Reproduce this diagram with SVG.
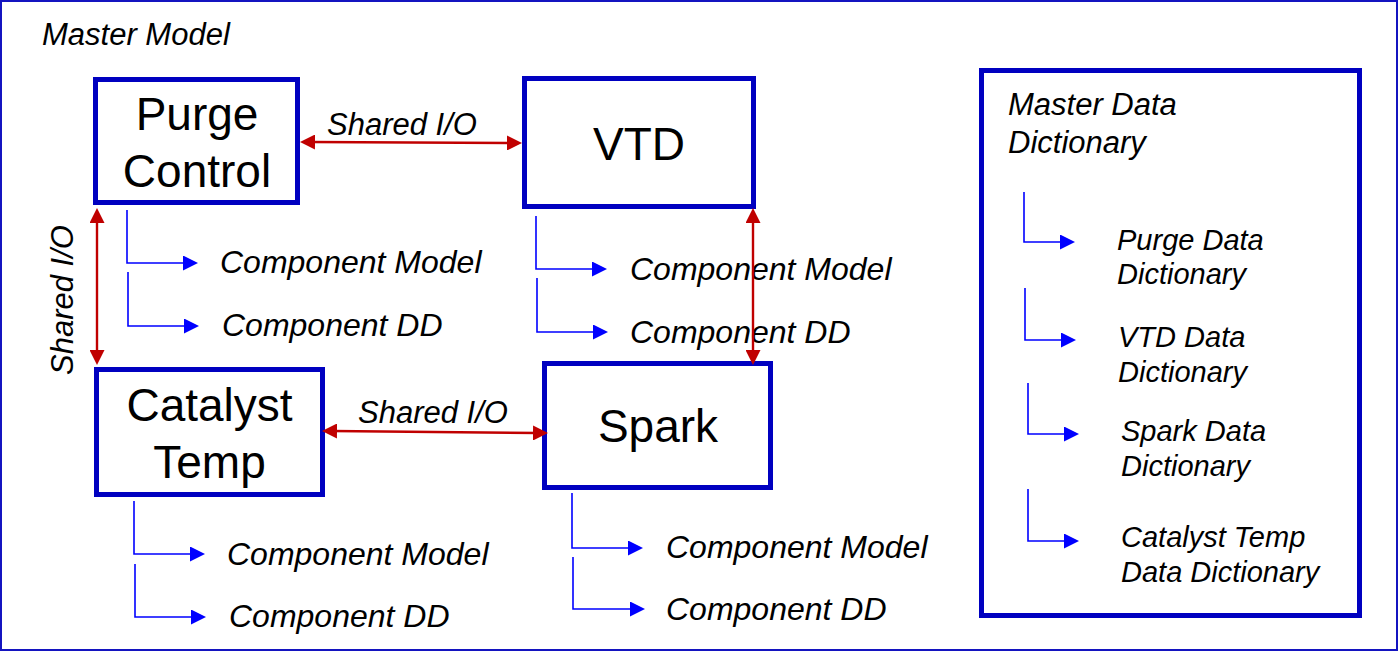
<svg xmlns="http://www.w3.org/2000/svg" width="1399" height="652" viewBox="0 0 1399 652">
<style>
.box{fill:#fff;stroke:#0000c0;stroke-width:5}
.big{font-family:"Liberation Sans",Arial,sans-serif;font-size:46px;fill:#000;text-anchor:middle}
.lbl{font-family:"Liberation Sans",Arial,sans-serif;font-style:italic;fill:#000}
.io{font-size:31px}
.cm{font-size:32px}
.dd{font-size:29px}
.red{fill:none;stroke:#c00000;stroke-width:2.4;marker-start:url(#ra);marker-end:url(#ra)}
.blu{fill:none;stroke:#0000ff;stroke-width:1.6;marker-end:url(#ba)}
</style>
<defs>
<marker id="ra" markerUnits="userSpaceOnUse" viewBox="0 0 15 15" refX="5" refY="7.5" markerWidth="15" markerHeight="15" orient="auto-start-reverse"><path d="M0,0 L15,7.5 L0,15 z" fill="#c00000"/></marker>
<marker id="ba" markerUnits="userSpaceOnUse" viewBox="0 0 15 15" refX="5" refY="7.5" markerWidth="15" markerHeight="15" orient="auto"><path d="M0,0 L15,7.5 L0,15 z" fill="#0000ff"/></marker>
</defs>
<rect x="0" y="0" width="1399" height="652" fill="#fff"/>
<rect id="frame" x="1" y="1" width="1396" height="649" fill="none" stroke="#1414c0" stroke-width="2"/>
<text class="lbl io" x="42" y="45">Master Model</text>

<g id="purge">
<rect class="box" x="95.5" y="79.5" width="202" height="123"/>
<text class="big" x="197" y="130">Purge</text>
<text class="big" x="197" y="187">Control</text>
<text class="lbl cm" x="220" y="273">Component Model</text>
<text class="lbl cm" x="222" y="336">Component DD</text>
</g>

<g id="vtd">
<rect class="box" x="524.5" y="78.5" width="229" height="128"/>
<text class="big" x="639" y="160">VTD</text>
<text class="lbl cm" x="630" y="280">Component Model</text>
<text class="lbl cm" x="630" y="343">Component DD</text>
</g>

<g id="catalyst">
<rect class="box" x="96.5" y="369.5" width="226" height="125"/>
<text class="big" x="209.5" y="421">Catalyst</text>
<text class="big" x="209.5" y="478">Temp</text>
<text class="lbl cm" x="227" y="565">Component Model</text>
<text class="lbl cm" x="229" y="627">Component DD</text>
</g>

<g id="spark">
<rect class="box" x="544.5" y="363.5" width="226" height="124"/>
<text class="big" x="658" y="442">Spark</text>
<text class="lbl cm" x="666" y="558">Component Model</text>
<text class="lbl cm" x="666" y="620">Component DD</text>
</g>

<g id="master-dd">
<rect class="box" x="981.5" y="70.5" width="378" height="545"/>
<text class="lbl io" x="1008" y="115">Master Data</text>
<text class="lbl io" x="1008" y="153">Dictionary</text>
<text class="lbl dd" x="1117" y="250">Purge Data</text>
<text class="lbl dd" x="1117" y="284">Dictionary</text>
<text class="lbl dd" x="1118" y="347">VTD Data</text>
<text class="lbl dd" x="1118" y="382">Dictionary</text>
<text class="lbl dd" x="1121" y="441">Spark Data</text>
<text class="lbl dd" x="1121" y="476">Dictionary</text>
<text class="lbl dd" x="1121" y="547">Catalyst Temp</text>
<text class="lbl dd" x="1121" y="582">Data Dictionary</text>
</g>

<g id="connectors">
<path class="red" d="M310,142 L512,143"/>
<path class="red" d="M97,218 L97,355"/>
<path class="red" d="M753,218 L753,355"/>
<path class="red" d="M332,431 L538,433"/>
<path class="blu" d="M127,210 V263 H188"/>
<path class="blu" d="M128,272 V326 H189"/>
<path class="blu" d="M536,216 V269 H597"/>
<path class="blu" d="M537,278 V332 H598"/>
<path class="blu" d="M134,501 V554 H195"/>
<path class="blu" d="M135,564 V617 H196"/>
<path class="blu" d="M572,493 V548 H633"/>
<path class="blu" d="M573,557 V609 H635"/>
<path class="blu" d="M1024,192 V242 H1065"/>
<path class="blu" d="M1025,288 V340 H1066"/>
<path class="blu" d="M1028,383 V434 H1069"/>
<path class="blu" d="M1028,489 V541 H1069"/>
<text class="lbl io" x="327" y="135">Shared I/O</text>
<text class="lbl io" x="358" y="423">Shared I/O</text>
<text class="lbl io" transform="translate(73,300) rotate(-90)" text-anchor="middle">Shared I/O</text>
</g>
</svg>
